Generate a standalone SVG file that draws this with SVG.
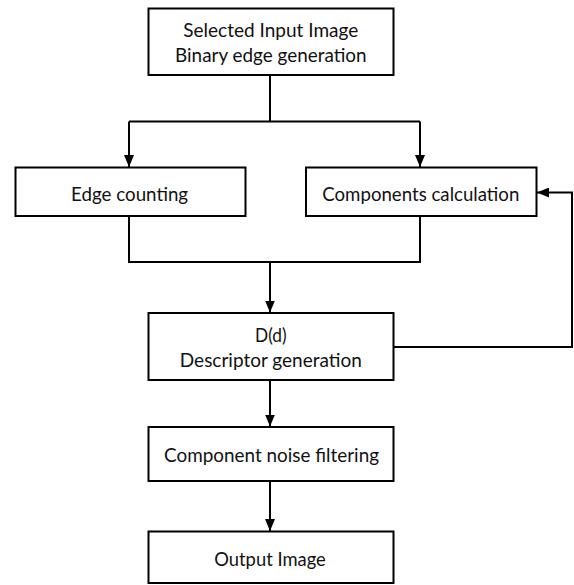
<svg xmlns="http://www.w3.org/2000/svg" width="574" height="585" viewBox="0 0 574 585">
<style>
.box{fill:#fff;stroke:#000;stroke-width:2}
.t{font-family:Lato,"Liberation Sans",sans-serif;font-size:20px;fill:#111;text-anchor:middle}
.c{fill:none;stroke:#000;stroke-width:2}
</style>
<defs>
<marker id="ah" viewBox="0 0 12 10" refX="12" refY="5" markerWidth="12" markerHeight="10" markerUnits="userSpaceOnUse" orient="auto">
<path d="M0,0 L12,5 L0,10 Z" fill="#000"/>
</marker>
</defs>
<g id="connectors">
<path class="c" d="M270,75 V121.5 M129,121.5 H420"/>
<path class="c" d="M129,121.5 V167" marker-end="url(#ah)"/>
<path class="c" d="M420,121.5 V167" marker-end="url(#ah)"/>
<path class="c" d="M129,216 V262 H420 V216"/>
<path class="c" d="M270,262 V312.5" marker-end="url(#ah)"/>
<path class="c" d="M270,380 V426.5" marker-end="url(#ah)"/>
<path class="c" d="M270,481 V531" marker-end="url(#ah)"/>
<path class="c" d="M393.5,347 H572 V192.5 H537" marker-end="url(#ah)"/>
</g>
<g id="n1">
<rect class="box" x="148.5" y="8.5" width="245" height="66.5"/>
<text class="t" x="270.8" y="37" textLength="175" lengthAdjust="spacingAndGlyphs">Selected Input Image</text>
<text class="t" x="270.8" y="62" textLength="191.5" lengthAdjust="spacingAndGlyphs">Binary edge generation</text>
</g>
<g id="n2">
<rect class="box" x="15.5" y="167.5" width="230" height="48.5"/>
<text class="t" x="129.6" y="200.5" textLength="117" lengthAdjust="spacingAndGlyphs">Edge counting</text>
</g>
<g id="n3">
<rect class="box" x="306" y="167.5" width="230.5" height="48.5"/>
<text class="t" x="420.8" y="200.5" textLength="197" lengthAdjust="spacingAndGlyphs">Components calculation</text>
</g>
<g id="n4">
<rect class="box" x="148.5" y="313" width="245" height="67"/>
<text class="t" x="270.8" y="342" textLength="31.5" lengthAdjust="spacingAndGlyphs">D(d)</text>
<text class="t" x="270.8" y="367" textLength="182" lengthAdjust="spacingAndGlyphs">Descriptor generation</text>
</g>
<g id="n5">
<rect class="box" x="148.5" y="427" width="245" height="54"/>
<text class="t" x="271.5" y="461.5" textLength="215" lengthAdjust="spacingAndGlyphs">Component noise filtering</text>
</g>
<g id="n6">
<rect class="box" x="148.5" y="531.5" width="245" height="51.5"/>
<text class="t" x="270" y="566" textLength="111.5" lengthAdjust="spacingAndGlyphs">Output Image</text>
</g>
</svg>
